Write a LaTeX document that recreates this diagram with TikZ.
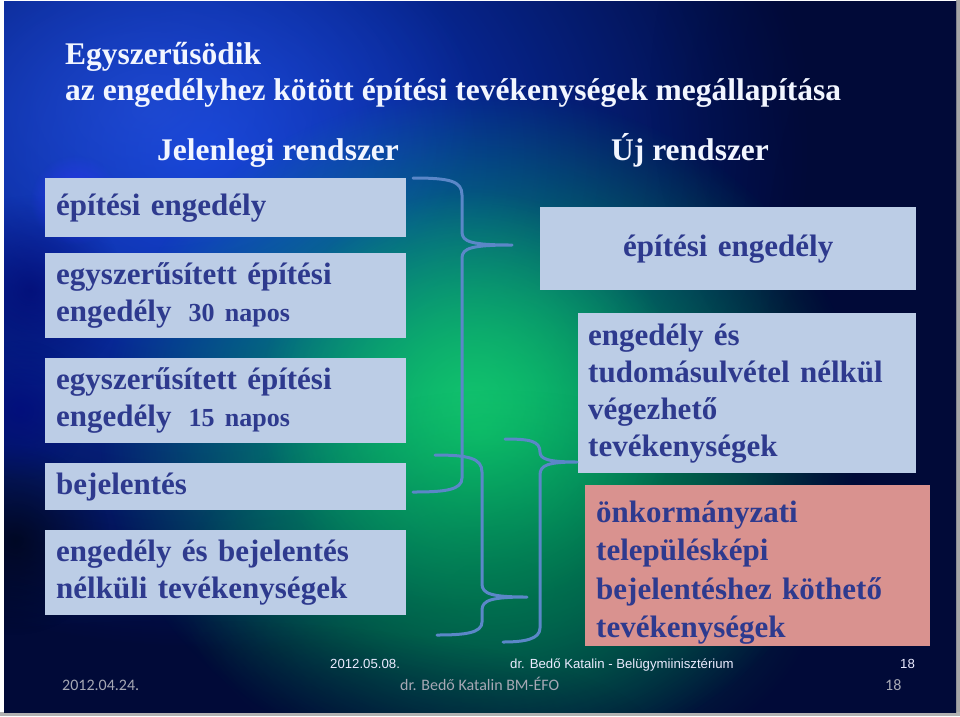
\documentclass[tikz,border=0pt]{standalone}
\usepackage{fontspec}
\setmainfont{Liberation Serif}
\newfontfamily\footA{Liberation Sans}
\newfontfamily\footB{Carlito}
\usetikzlibrary{fadings}
\definecolor{navy}{HTML}{010A38}
\definecolor{bgblue}{HTML}{0C3CD6}
\definecolor{bggreen}{HTML}{00C262}
\definecolor{boxblue}{HTML}{BCCDE6}
\definecolor{boxpink}{HTML}{D9928F}
\definecolor{txtblue}{HTML}{2E3A8E}
\definecolor{bracecol}{HTML}{5B87C8}
\definecolor{titlecol}{HTML}{F2F6FF}
\definecolor{footgray}{HTML}{A6A8B4}
\tikzfading[name=softfade, inner color=transparent!0, outer color=transparent!100]
\tikzset{
  boxbase/.style={fill=boxblue, text=txtblue, anchor=north west, inner ysep=0pt,
    align=left, font=\bfseries\fontsize{31}{37}\selectfont},
  titletext/.style={text=titlecol, anchor=base west, inner sep=0pt,
    font=\bfseries\fontsize{31.5}{37}\selectfont},
  bracepath/.style={draw=bracecol, line width=3pt, line cap=round, line join=round},
  footone/.style={text=white!92!blue, anchor=base west, inner sep=0pt, font=\footA\fontsize{13.2}{15}\selectfont},
  foottwo/.style={text=footgray, anchor=base west, inner sep=0pt, font=\footB\fontsize{16}{18}\selectfont}
}
\newcommand{\napos}[1]{\hspace{0.55em}{\fontsize{26}{37}\selectfont #1}}
\begin{document}
\begin{tikzpicture}[x=1pt,y=-1pt]
\useasboundingbox (0,0) rectangle (960,716);
% frame and background
\fill[white] (0,0) rectangle (960,716);
\fill[gray!70] (956,0) rectangle (960,716);
\fill[gray!60] (0,712) rectangle (960,716);
\begin{scope}
\clip (4,1) rectangle (956,712);
\fill[navy] (0,0) rectangle (960,716);
\fill[bgblue, path fading=softfade] (200,150) ellipse (620 and 500);
\fill[bgblue!85!white, path fading=softfade, opacity=0.5] (150,110) ellipse (330 and 230);
\fill[navy, path fading=softfade, opacity=0.9] (980,90) ellipse (330 and 380);
\fill[bggreen, path fading=softfade] (480,430) ellipse (380 and 340);
\fill[bggreen!90!white, path fading=softfade, opacity=0.7] (470,400) ellipse (210 and 210);
\fill[bggreen!60!navy, path fading=softfade, opacity=0.6] (500,590) ellipse (320 and 200);
\fill[navy, path fading=softfade, opacity=0.8] (960,330) ellipse (200 and 420);
\fill[navy, path fading=softfade, opacity=0.6] (180,740) ellipse (480 and 120);
% spheres at left edge
\fill[black!60!blue, path fading=softfade, opacity=0.6] (30,290) circle (95);
\fill[blue!80!white, path fading=softfade, opacity=0.7] (75,200) circle (45);
\fill[black, path fading=softfade, opacity=0.55] (15,540) circle (95);
\fill[black!50!blue, path fading=softfade, opacity=0.5] (20,410) circle (70);
\end{scope}
% titles
\node[titletext] (t1) at (65,64) {Egyszerűsödik};
\node[titletext] (t2) at (65,100) {az engedélyhez kötött építési tevékenységek megállapítása};
\node[titletext] (h1) at (157,160) {Jelenlegi rendszer};
\node[titletext] (h2) at (611,160) {Új rendszer};
% left boxes
\node[boxbase, minimum height=59pt, text width=339pt, inner xsep=11pt] (l1) at (45,178) {építési engedély};
\node[boxbase, minimum height=85pt, text width=339pt, inner xsep=11pt] (l2) at (45,253) {egyszerűsített építési\\engedély\napos{30 napos}};
\node[boxbase, minimum height=85pt, text width=339pt, inner xsep=11pt] (l3) at (45,358) {egyszerűsített építési\\engedély\napos{15 napos}};
\node[boxbase, minimum height=47pt, text width=339pt, inner xsep=11pt] (l4) at (45,463) {bejelentés};
\node[boxbase, minimum height=85pt, text width=339pt, inner xsep=11pt] (l5) at (45,530) {engedély és bejelentés\\nélküli tevékenységek};
% right boxes
\node[boxbase, minimum height=83pt, text width=376pt, inner xsep=0pt, align=center] (r1) at (540,207) {építési engedély};
\node[boxbase, minimum height=160pt, text width=318pt, inner xsep=10pt] (r2) at (578,313) {engedély és\\tudomásulvétel nélkül\\végezhető\\tevékenységek};
\node[boxbase, fill=boxpink, minimum height=161pt, text width=323pt, inner xsep=11pt, font=\bfseries\fontsize{31}{38.5}\selectfont] (r3) at (585,485) {\rule{0pt}{35pt}önkormányzati\\településképi\\bejelentéshez köthető\\tevékenységek};
% braces
\coordinate (b1tip) at (512,245);
\coordinate (b2tip) at (527,597);
\coordinate (b3tip) at (577,462);
\draw[bracepath] (413,178) .. controls (450,178) and (462,181) .. (462,195) -- (462,232)
  .. controls (462,242) and (472,245) .. (b1tip)
  .. controls (472,245) and (462,248) .. (462,258) -- (462,478)
  .. controls (462,490) and (445,492) .. (413,492);
\draw[bracepath] (435,455) .. controls (468,455) and (482,458) .. (482,472) -- (482,584)
  .. controls (482,594) and (492,597) .. (b2tip)
  .. controls (492,597) and (482,600) .. (482,610) -- (482,622)
  .. controls (482,633) and (465,635) .. (437,635);
\draw[bracepath] (505,439) .. controls (530,439) and (540,441) .. (540,452)
  .. controls (540,459) and (548,462) .. (b3tip)
  .. controls (548,462) and (540,465) .. (540,475) -- (540,628)
  .. controls (540,639) and (525,642) .. (503,642);
% footer
\node[footone] (f1) at (330,668) {2012.05.08.};
\node[footone] (f2) at (510,668) {dr. Bedő Katalin - Belügymiinisztérium};
\node[footone] (f3) at (900,668) {18};
\node[foottwo] (g1) at (62,690) {2012.04.24.};
\node[foottwo] (g2) at (400,690) {dr. Bedő Katalin BM-ÉFO};
\node[foottwo] (g3) at (885,690) {18};
\end{tikzpicture}
\end{document}
